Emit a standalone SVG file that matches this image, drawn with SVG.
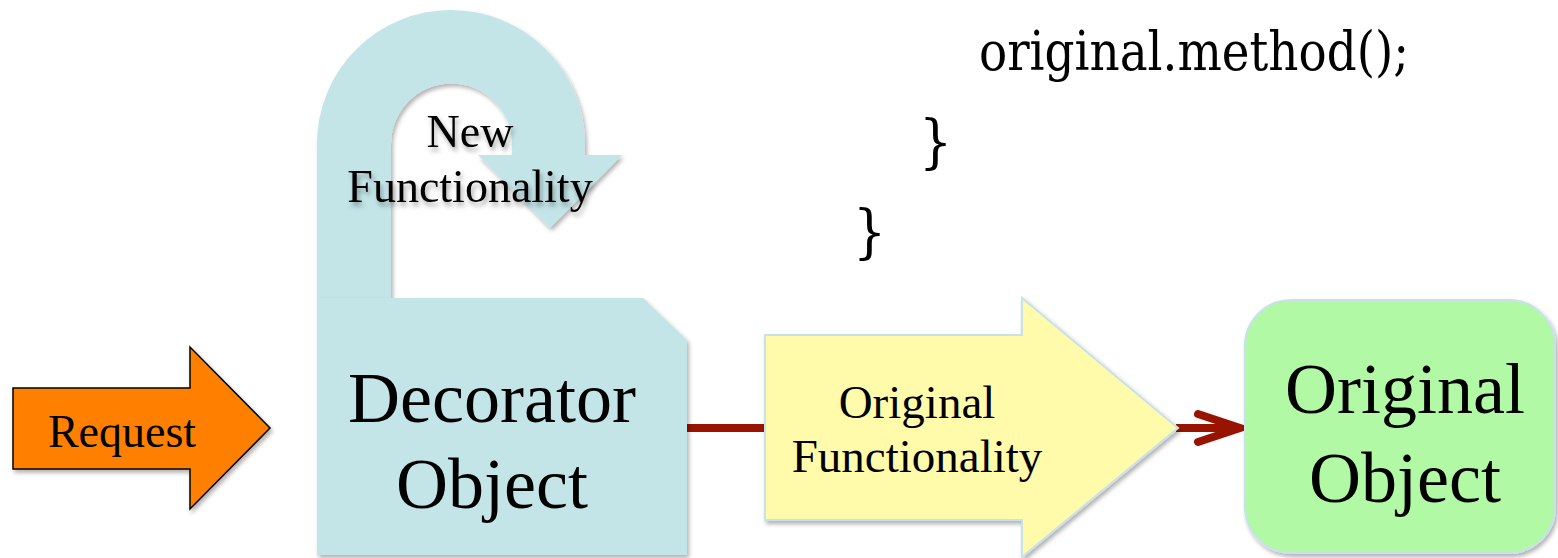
<svg xmlns="http://www.w3.org/2000/svg" width="1558" height="558" viewBox="0 0 1558 558">
<style>
.serif{font-family:"Liberation Serif","Times New Roman",serif;fill:#000;text-anchor:middle}
.code{font-family:"DejaVu Serif Condensed","DejaVu Serif",serif;fill:#000}
.cyan{fill:#c4e5e8}
.conn{stroke:#991400;stroke-width:8;fill:none}
</style>
<defs>
<filter id="sh" x="-10%" y="-10%" width="130%" height="130%">
<feDropShadow dx="2" dy="3" stdDeviation="2" flood-color="#000" flood-opacity="0.3"/>
</filter>
<filter id="tsh" x="-10%" y="-20%" width="130%" height="150%">
<feDropShadow dx="2" dy="4" stdDeviation="2.5" flood-color="#000" flood-opacity="0.35"/>
</filter>
</defs>
<rect width="1558" height="558" fill="#fff"/>

<g id="code">
<text class="code" x="979" y="70" font-size="54" textLength="430" lengthAdjust="spacingAndGlyphs">original.method();</text>
<text class="code" x="919" y="162" font-size="58">}</text>
<text class="code" x="853" y="252" font-size="58">}</text>
</g>

<g id="connectors">
<line class="conn" x1="686" y1="428" x2="768" y2="428"/>
<line class="conn" x1="1176" y1="428" x2="1238" y2="428"/>
<path class="conn" d="M1198,414 L1240,428 L1198,442" stroke-linecap="round" stroke-linejoin="miter"/>
</g>

<g id="request">
<path d="M13,388 L190,388 L190,347 L270,428 L190,509 L190,469 L13,469 Z" fill="#ff8000" stroke="#000" stroke-width="1.5" filter="url(#sh)"/>
<text class="serif" x="122" y="447" font-size="46">Request</text>
</g>

<g id="new-functionality">
<path class="cyan" filter="url(#sh)" d="M317,298 L317,144 A134,134 0 0 1 585,144 L585,155 L622,155 L550,228 L478,155 L512,155 L512,144 A60.5,60.5 0 0 0 391,144 L391,298 Z"/>
<g filter="url(#tsh)">
<text class="serif" x="470" y="147" font-size="46">New</text>
<text class="serif" x="470" y="202" font-size="46">Functionality</text>
</g>
</g>

<g id="decorator">
<path class="cyan" filter="url(#sh)" d="M317,298 L643,298 L687,340 L687,555 L317,555 Z"/>
<text class="serif" x="492" y="422" font-size="72">Decorator</text>
<text class="serif" x="492" y="508" font-size="72">Object</text>
</g>

<g id="original-functionality">
<path d="M765,335 L1022,335 L1022,298 L1178,428 L1022,557 L1022,520 L765,520 Z" fill="#fffbab" stroke="#c8e2ea" stroke-width="2" filter="url(#sh)"/>
<text class="serif" x="917" y="418" font-size="47">Original</text>
<text class="serif" x="917" y="472" font-size="47">Functionality</text>
</g>

<g id="original-object">
<rect x="1245" y="300" width="310" height="253" rx="46" ry="46" fill="#b1f9a5" stroke="#c8e2ea" stroke-width="2" filter="url(#sh)"/>
<text class="serif" x="1405" y="413" font-size="72">Original</text>
<text class="serif" x="1405" y="502" font-size="72">Object</text>
</g>
</svg>
